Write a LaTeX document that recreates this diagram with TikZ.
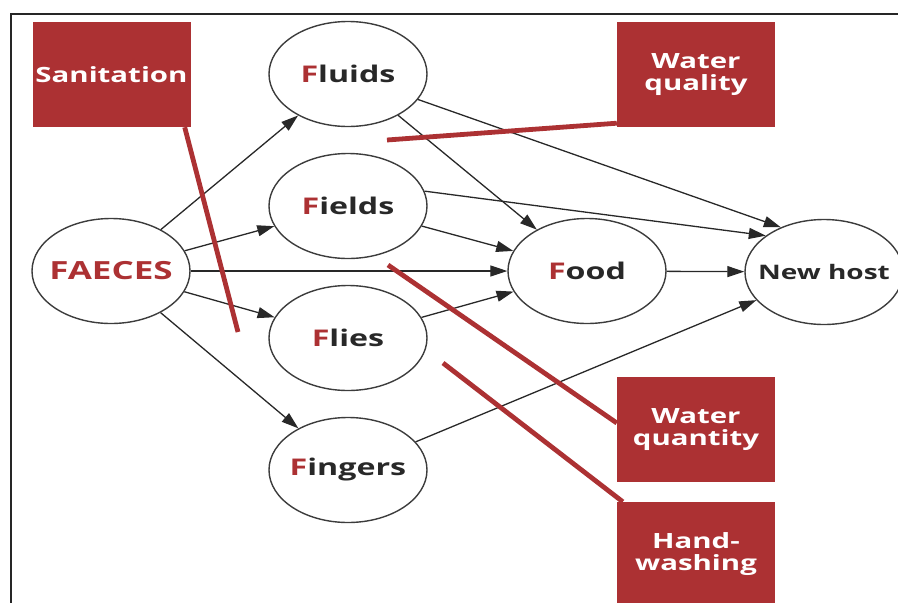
\documentclass[tikz,border=0pt]{standalone}
\usepackage{fontspec}
\newfontfamily\lbl{Open Sans}[FakeStretch=1.4]
\usetikzlibrary{shapes.geometric,arrows.meta}
\definecolor{fred}{RGB}{172,49,51}
\definecolor{ink}{RGB}{40,40,40}
\definecolor{rim}{RGB}{60,60,60}
\tikzset{
  blob/.style={ellipse, draw=rim, line width=1.4pt, minimum width=158pt, minimum height=105pt, inner sep=0pt},
  ftext/.style={font={\lbl\bfseries\fontsize{23}{25}\selectfont}, text=ink, inner sep=0pt},
  bigtext/.style={font={\lbl\bfseries\fontsize{25}{27}\selectfont}, text=fred, inner sep=0pt},
  hosttext/.style={font={\lbl\bfseries\fontsize{20}{22}\selectfont}, text=ink, inner sep=0pt},
  redbox/.style={rectangle, fill=fred, minimum width=158pt, minimum height=105pt, inner sep=0pt, align=center, text=white, font={\lbl\bfseries\fontsize{21}{22}\selectfont}},
  arr/.style={draw=ink, line width=1.3pt, -{Triangle[length=17pt,width=11pt]}},
  redline/.style={draw=fred, line width=4.8pt}
}
\newcommand{\rf}[1]{{\color{fred}#1}}
\begin{document}
\begin{tikzpicture}[x=1pt,y=-1pt]
\useasboundingbox (0,0) rectangle (898,603);
% frame
\draw[line width=1.6pt, black!85] (11,605) -- (11,14) -- (905,14);

% ellipses
\node[blob, label={[bigtext]center:FAECES}] (faeces) at (111,271) {};
\node[blob, label={[ftext]center:\rf{F}luids}] (fluids) at (348,74) {};
\node[blob, label={[ftext]center:\rf{F}ields}] (fields) at (348,206) {};
\node[blob, label={[ftext]center:\rf{F}lies}] (flies) at (348,338) {};
\node[blob, label={[ftext]center:\rf{F}ingers}] (fingers) at (348,470) {};
\node[blob, label={[ftext]center:\rf{F}ood}] (food) at (587,271) {};
\node[blob, label={[hosttext]center:New host}] (host) at (824,272) {};

% red boxes
\node[redbox] (san) at (111.5,74.5) {Sanitation};
\node[redbox] (wql) at (696,74.5) {Water\\quality};
\node[redbox] (wqn) at (696,429.5) {Water\\quantity};
\node[redbox] (hw) at (696,554.5) {Hand-\\washing};

% arrows
\draw[arr] (faeces) -- (fluids);
\draw[arr] (faeces) -- (fields);
\draw[arr] (faeces) -- (food);
\draw[arr] (faeces) -- (flies);
\draw[arr] (faeces) -- (fingers);
\draw[arr] (fluids) -- (food);
\draw[arr] (fluids.-20) -- (host.134);
\draw[arr] (fields) -- (food);
\draw[arr] (fields.11) -- (host.148);
\draw[arr] (flies) -- (food);
\draw[arr] (fingers) -- (host);
\draw[arr] (food) -- (host);

% red barrier lines
\coordinate (sanEnd) at (238,332);
\coordinate (wqlEnd) at (387,140);
\coordinate (wqnEnd) at (388,265);
\coordinate (hwEnd) at (443,363);
\draw[redline] ([xshift=-6pt]san.south east) -- (sanEnd);
\draw[redline] ([yshift=4pt]wql.south west) -- (wqlEnd);
\draw[redline] ([yshift=6.5pt]wqn.west) -- (wqnEnd);
\draw[redline] ([xshift=6pt]hw.north west) -- (hwEnd);
\end{tikzpicture}
\end{document}
